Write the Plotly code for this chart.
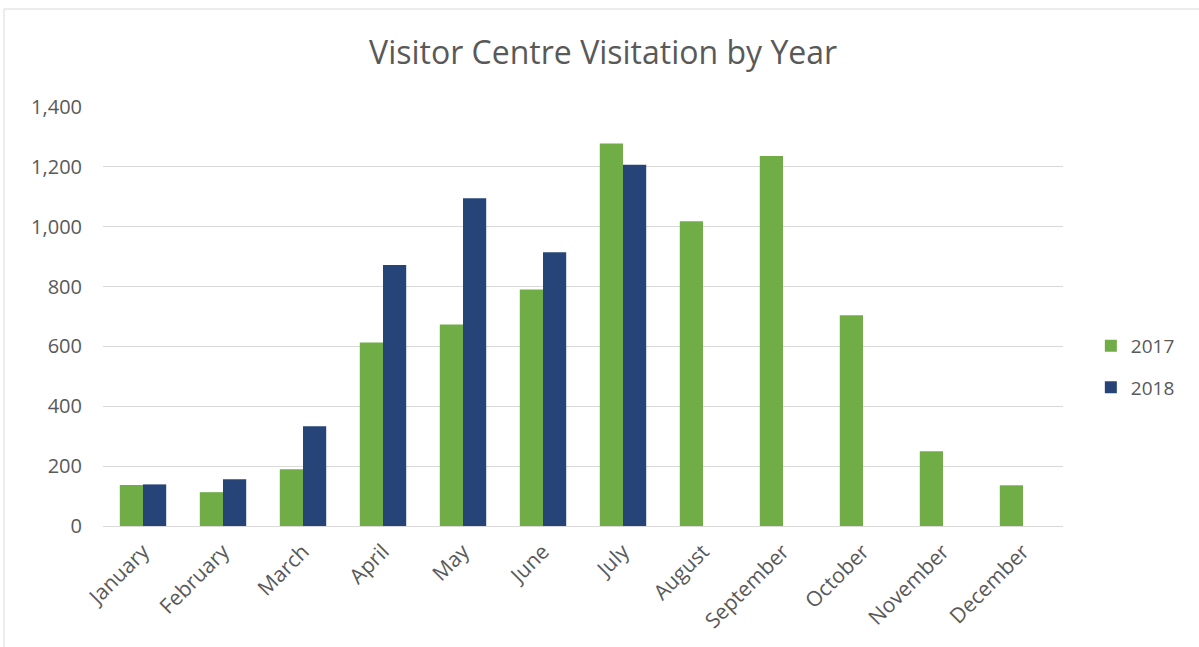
import plotly.graph_objects as go

months = ["January", "February", "March", "April", "May", "June", "July",
          "August", "September", "October", "November", "December"]
visits_2017 = [137, 113, 190, 613, 673, 790, 1278, 1018, 1236, 704, 250, 136]
visits_2018 = [139, 156, 333, 872, 1095, 915, 1207, None, None, None, None, None]
y_ticks = [0, 200, 400, 600, 800, 1000, 1200, 1400]

GREEN = "#70AD47"
BLUE = "#264478"
TXT = "#595959"
FONT = "Open Sans, Noto Sans, sans-serif"

fig = go.Figure()
fig.add_trace(go.Bar(x=months, y=visits_2017, name="2017", marker_color=GREEN,
                     marker_line_width=0, legendgroup="a"))
fig.add_trace(go.Bar(x=months, y=visits_2018, name="2018", marker_color=BLUE,
                     marker_line_width=0, legendgroup="b"))

fig.update_layout(
    width=1199, height=647,
    margin=dict(l=103, r=136, t=107, b=121),
    paper_bgcolor="white", plot_bgcolor="white",
    barmode="group", bargap=0.42, bargroupgap=0,
    title=dict(text="Visitor Centre Visitation by Year", x=0.503, xanchor="center",
               y=0.918, yanchor="middle",
               font=dict(family=FONT, size=32, color=TXT)),
    font=dict(family=FONT, color=TXT),
    legend=dict(x=1.029, y=0.38, xanchor="left", yanchor="middle",
                font=dict(size=19, color=TXT), tracegroupgap=14,
                traceorder="grouped", itemwidth=30),
    showlegend=True,
)
fig.update_xaxes(showgrid=False, showline=True, linecolor="#D9D9D9", linewidth=1,
                 tickangle=-45, tickfont=dict(size=21, color=TXT), ticks="",
                 ticklabelstandoff=4)
fig.update_yaxes(range=[0, 1400], tickvals=y_ticks, tickformat=",",
                 showgrid=True, gridcolor="#D9D9D9", gridwidth=1,
                 zeroline=False, showline=False, ticks="",
                 tickfont=dict(size=20, color=TXT), ticklabelstandoff=20)

# chart frame
fig.add_shape(type="rect", xref="paper", yref="paper",
              x0=(4 - 103) / 960, x1=(1210 - 103) / 960,
              y0=(526 - 652) / 419, y1=(526 - 9) / 419,
              line=dict(color="#D9D9D9", width=1), fillcolor="rgba(0,0,0,0)",
              layer="below")

fig.write_html("out.html")
